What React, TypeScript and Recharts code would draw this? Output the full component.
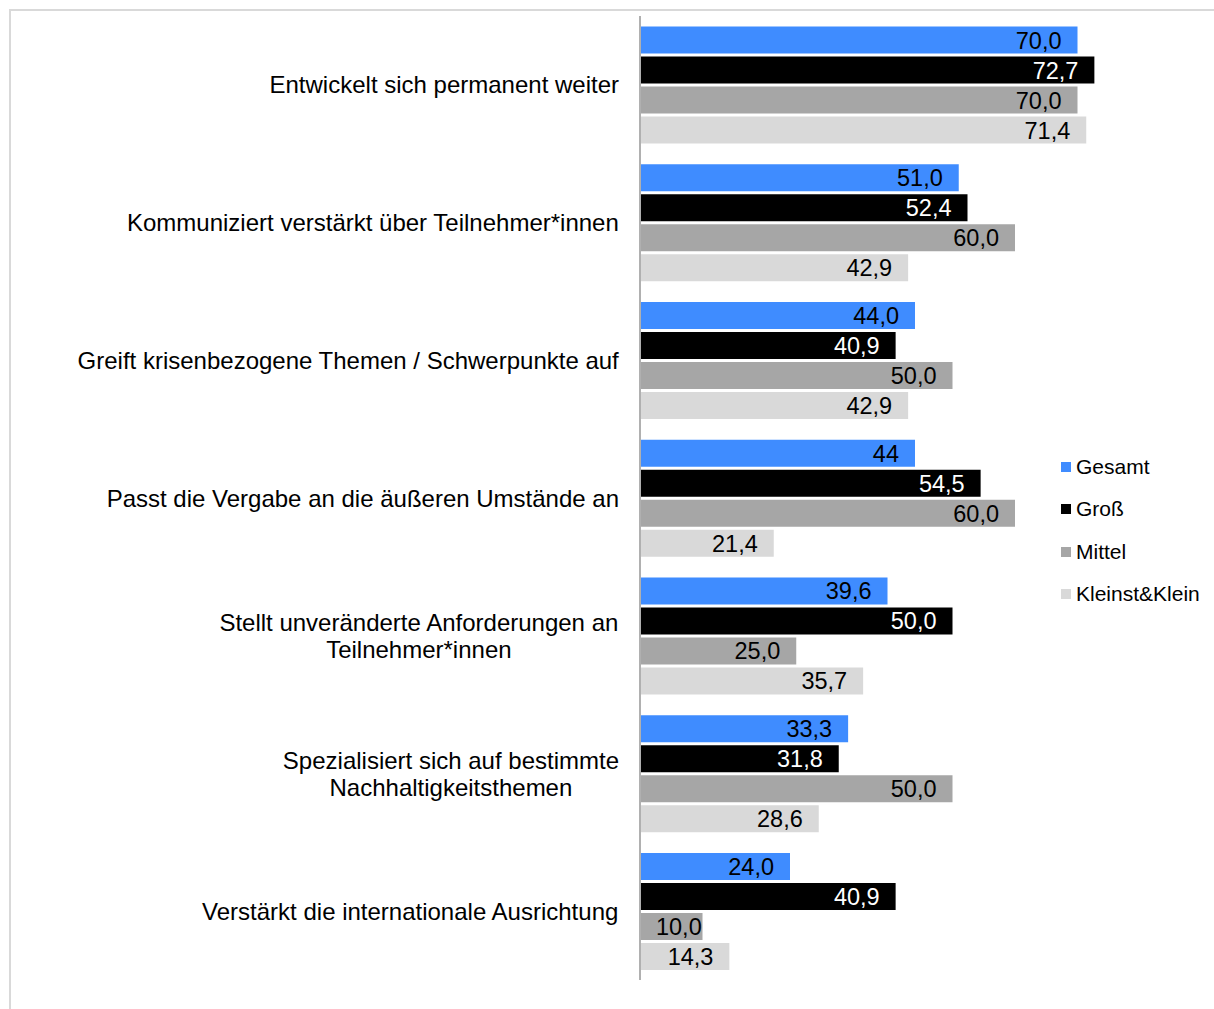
import React from 'react';
import { BarChart, Bar, XAxis, YAxis, Legend, LabelList } from 'recharts';

const categories = [
  'Entwickelt sich permanent weiter',
  'Kommuniziert verstärkt über Teilnehmer*innen',
  'Greift krisenbezogene Themen / Schwerpunkte auf',
  'Passt die Vergabe an die äußeren Umstände an',
  'Stellt unveränderte Anforderungen an\nTeilnehmer*innen',
  'Spezialisiert sich auf bestimmte\nNachhaltigkeitsthemen',
  'Verstärkt die internationale Ausrichtung',
];
const gesamt = [70.0, 51.0, 44.0, 44, 39.6, 33.3, 24.0];
const gesamtText = ['70,0', '51,0', '44,0', '44', '39,6', '33,3', '24,0'];
const gross = [72.7, 52.4, 40.9, 54.5, 50.0, 31.8, 40.9];
const mittel = [70.0, 60.0, 50.0, 60.0, 25.0, 50.0, 10.0];
const klein = [71.4, 42.9, 42.9, 21.4, 35.7, 28.6, 14.3];

const seriesNames = ['Gesamt', 'Groß', 'Mittel', 'Kleinst&Klein'];
const seriesColors = ['#3f8cff', '#000000', '#a6a6a6', '#d9d9d9'];

const FONT = '"Liberation Sans", Arial, sans-serif';
const CAT_SIZE = 24;
const LABEL_SIZE = 23.5;
const LEGEND_SIZE = 21;

const data = categories.map((name, i) => ({
  name,
  gesamt: gesamt[i],
  gesamtText: gesamtText[i],
  gross: gross[i],
  mittel: mittel[i],
  klein: klein[i],
}));

let ctx: CanvasRenderingContext2D | null = null;
const measure = (text: string, size: number) => {
  if (!ctx) ctx = document.createElement('canvas').getContext('2d');
  if (!ctx) return text.length * size * 0.55;
  ctx.font = `${size}px ${FONT}`;
  return ctx.measureText(text).width;
};

const fmt = (v: number) => v.toFixed(1).replace('.', ',');

const CategoryTick = (props: any) => {
  const { x, y, payload } = props;
  const lines: string[] = String(payload.value).split('\n');
  const maxW = Math.max(...lines.map((l) => measure(l, CAT_SIZE)));
  const right = x - 21;
  const lineH = 27;
  const top = y - ((lines.length - 1) * lineH) / 2;
  return (
    <g>
      {lines.map((l, i) => (
        <text
          key={i}
          x={right - maxW / 2}
          y={top + i * lineH}
          dy='0.36em'
          textAnchor='middle'
          fontSize={CAT_SIZE}
          fontFamily={FONT}
          fill='#000'
        >
          {l}
        </text>
      ))}
    </g>
  );
};

// Beschriftung innen am Balkenende, wie in Excel
const makeLabel = (color: string, textKey?: string) => (props: any) => {
  const { x, y, width, height, value, index } = props;
  const text = textKey ? data[index][textKey as 'gesamtText'] : fmt(value);
  const tw = measure(text, LABEL_SIZE);
  const endX = Math.max(x + width - 16, x + 16 + tw);
  return (
    <text
      x={endX}
      y={y + height / 2}
      dy='0.36em'
      textAnchor='end'
      fontSize={LABEL_SIZE}
      fontFamily={FONT}
      fill={color}
    >
      {text}
    </text>
  );
};

const renderLegend = () => (
  <div style={{ fontFamily: FONT, fontSize: LEGEND_SIZE, color: '#000' }}>
    {seriesNames.map((n, i) => (
      <div
        key={n}
        style={{ display: 'flex', alignItems: 'center', height: 42.3 }}
      >
        <span
          style={{
            width: 10,
            height: 10,
            background: seriesColors[i],
            marginRight: 5,
            display: 'inline-block',
          }}
        />
        <span>{n}</span>
      </div>
    ))}
  </div>
);

export default function App() {
  return (
    <div
      style={{
        position: 'absolute',
        left: 0,
        top: 0,
        width: 1214,
        height: 1009,
        overflow: 'hidden',
        background: '#fff',
      }}
    >
      <div
        style={{
          position: 'absolute',
          left: 9,
          top: 9,
          width: 1300,
          height: 1100,
          borderTop: '2px solid #d9d9d9',
          borderLeft: '2px solid #d9d9d9',
        }}
      />
      <div style={{ position: 'absolute', left: 0, top: 0 }}>
        <BarChart
          width={1214}
          height={1009}
          data={data}
          layout='vertical'
          margin={{ top: 16, right: 74, left: 0, bottom: 29 }}
          barCategoryGap='7.7%'
          barGap={3}
        >
          <XAxis type='number' domain={[0, 80]} hide />
          <YAxis
            type='category'
            dataKey='name'
            width={640}
            tickSize={0}
            tickMargin={0}
            tickLine={false}
            axisLine={{ stroke: '#b0b0b0', strokeWidth: 2 }}
            tick={<CategoryTick />}
            interval={0}
          />
          <Legend
            layout='vertical'
            align='center'
            verticalAlign='middle'
            content={renderLegend}
            wrapperStyle={{ left: 1061, top: 446, width: 150 }}
          />
          <Bar dataKey='gesamt' name='Gesamt' fill={seriesColors[0]} isAnimationActive={false}>
            <LabelList dataKey='gesamt' content={makeLabel('#000', 'gesamtText')} />
          </Bar>
          <Bar dataKey='gross' name='Groß' fill={seriesColors[1]} isAnimationActive={false}>
            <LabelList dataKey='gross' content={makeLabel('#fff')} />
          </Bar>
          <Bar dataKey='mittel' name='Mittel' fill={seriesColors[2]} isAnimationActive={false}>
            <LabelList dataKey='mittel' content={makeLabel('#000')} />
          </Bar>
          <Bar dataKey='klein' name='Kleinst&Klein' fill={seriesColors[3]} isAnimationActive={false}>
            <LabelList dataKey='klein' content={makeLabel('#000')} />
          </Bar>
        </BarChart>
      </div>
    </div>
  );
}
